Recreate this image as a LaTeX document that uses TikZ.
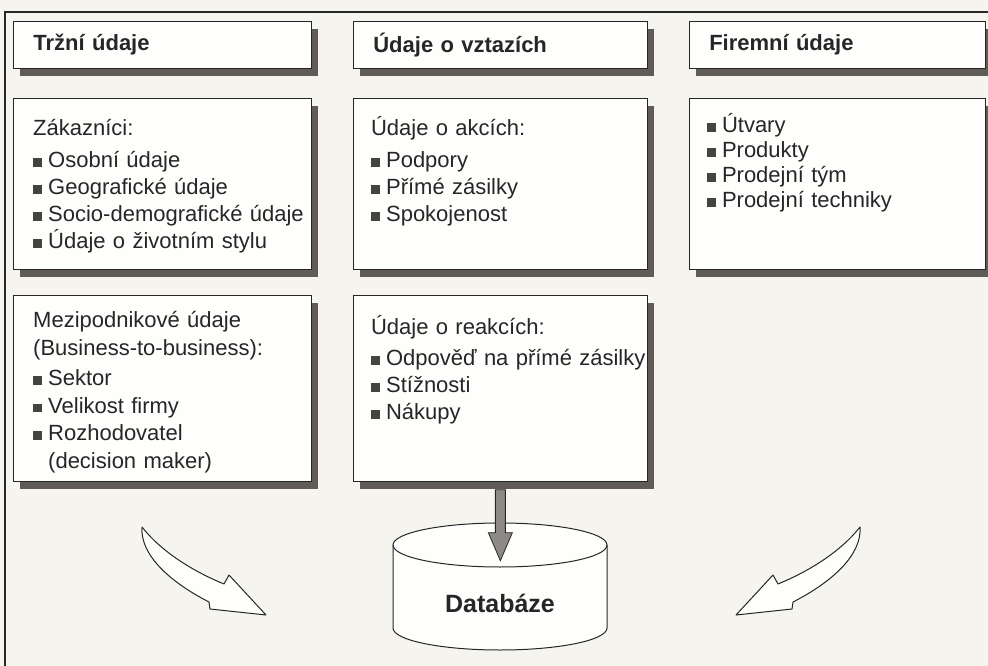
\documentclass[tikz,border=0pt]{standalone}
\usepackage{fontspec}
\setmainfont{Liberation Sans}
\usepackage{tikz}
\usetikzlibrary{positioning,calc,shadows}
\definecolor{ink}{HTML}{262626}
\definecolor{paper}{HTML}{FEFEFC}
\definecolor{scan}{HTML}{F5F4EF}
\definecolor{shadowgray}{HTML}{615B57}
\definecolor{bulletgray}{HTML}{454242}
\definecolor{arrowgray}{HTML}{8E8985}
\newcommand\bul{\textcolor{bulletgray}{\rule[1pt]{8.5pt}{8.5pt}}\hspace{6.5pt}}
\tikzset{panel/.style={draw=ink,line width=0.9pt,fill=paper,
  drop shadow={shadow xshift=7pt,shadow yshift=-8pt,fill=shadowgray,opacity=1}},
  headbox/.style={panel,minimum height=47pt,inner xsep=20pt,align=left,
  font=\fontsize{22}{26}\selectfont\bfseries,text=ink},
  bodytext/.style={anchor=base west,inner sep=0pt,text width=290pt,align=left,
  font=\fontsize{22}{27}\selectfont,text=ink},
  bentarrow/.style={draw=ink,line width=1pt,fill=paper,line join=round},
  fatarrow/.style={draw=ink,line width=0.8pt,fill=arrowgray,line join=miter}}

\begin{document}
\begin{tikzpicture}[x=1pt,y=1pt]
\fill[scan] (0,0) rectangle (988,-666);
\useasboundingbox (0,0) rectangle (988,-666);
\draw[ink,line width=1.4pt] (5,-666) -- (5,-12) -- (988,-12);
% headers
\node[headbox,text width=258pt,anchor=north west] (hdrMarket) at (13,-21) {Tržní údaje};
\node[headbox,text width=254pt,right=41pt of hdrMarket] (hdrRel) {Údaje o vztazích};
\node[headbox,text width=256pt,right=41pt of hdrRel] (hdrFirm) {Firemní údaje};
% panels
\node[panel,minimum width=298pt,minimum height=171pt,below=29pt of hdrMarket] (boxCust) {};
\node[panel,minimum width=294pt,minimum height=171pt,below=29pt of hdrRel] (boxAct) {};
\node[panel,minimum width=296pt,minimum height=171pt,below=29pt of hdrFirm] (boxFirm) {};
\node[panel,minimum width=298pt,minimum height=186pt,below=25pt of boxCust] (boxB2B) {};
\node[panel,minimum width=294pt,minimum height=186pt,below=25pt of boxAct] (boxReact) {};
% texts
\node[bodytext] (txtCust) at ([shift={(20,-38)}]boxCust.north west)
  {Zákazníci:\\[5pt]\bul Osobní údaje\\\bul Geografické údaje\\\bul Socio-demografické údaje\\\bul Údaje o životním stylu};
\node[bodytext] (txtAct) at ([shift={(18,-38)}]boxAct.north west)
  {Údaje o akcích:\\[5pt]\bul Podpory\\\bul Přímé zásilky\\\bul Spokojenost};
\node[bodytext,font=\fontsize{22}{25}\selectfont] (txtFirm) at ([shift={(18,-35)}]boxFirm.north west)
  {\bul Útvary\\\bul Produkty\\\bul Prodejní tým\\\bul Prodejní techniky};
\node[bodytext,font=\fontsize{22}{27.5}\selectfont] (txtB2B) at ([shift={(20,-33)}]boxB2B.north west)
  {Mezipodnikové údaje\\(Business-to-business):\\[3pt]\bul Sektor\\\bul Velikost firmy\\\bul Rozhodovatel\\\hspace*{15pt}(decision maker)};
\node[bodytext] (txtReact) at ([shift={(18,-40)}]boxReact.north west)
  {Údaje o reakcích:\\[4pt]\bul Odpověď na přímé zásilky\\\bul Stížnosti\\\bul Nákupy};
% database
\draw[ink,line width=1pt,fill=paper] (393,-545) -- (393,-628)
  arc[start angle=180,end angle=360,x radius=107,y radius=22] -- (607,-545)
  arc[start angle=0,end angle=180,x radius=107,y radius=22] -- cycle;
\draw[ink,line width=1pt] (393,-545) arc[start angle=180,end angle=360,x radius=107,y radius=22];
\node[font=\fontsize{25}{30}\selectfont\bfseries,text=ink] (dbase) at (500,-603) {Databáze};
\coordinate (dnTail) at ([yshift=-8pt]boxReact.south);
\draw[fatarrow] ($(dnTail)+(-5,0)$) -- ++(0,-43) -- ++(-7,0) -- ($(dnTail)+(0,-71)$)
  -- ++(12,28) -- ++(-7,0) -- ++(0,43) -- cycle;
% bent arrows
\foreach \s/\dx in {1/0,-1/1002}{
\begin{scope}[shift={(\dx,0)},xscale=\s]
\draw[bentarrow] (142,-527) .. controls (160,-550) and (190,-570) .. (224,-584)
  -- (229,-575) -- (266,-615) -- (210,-609) -- (209,-602)
  .. controls (170,-582) and (140,-555) .. (142,-527) -- cycle;
\end{scope}}
\end{tikzpicture}
\end{document}
